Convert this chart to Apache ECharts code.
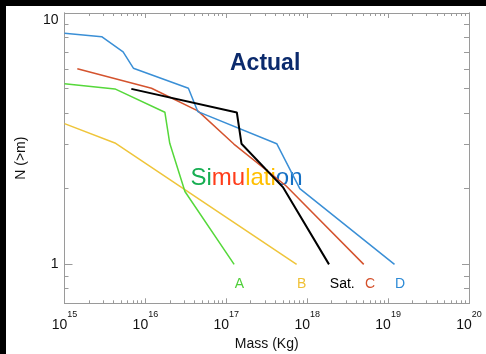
<!DOCTYPE html>
<html><head><meta charset="utf-8">
<script src="https://cdn.jsdelivr.net/npm/echarts@6/dist/echarts.min.js"></script>
<style>
html,body{margin:0;padding:0;background:#000;width:486px;height:354px;overflow:hidden}
#c{position:absolute;left:6px;top:6px;width:480px;height:348px;background:#fff}
</style>
</head><body><div id="c"></div>
<script>
// Series readings (mass in kg, N(>m))
const massA = [1e15, 4.2e15, 1.74e16, 2.0e16, 3.08e16, 1.25e17];
const nA    = [5.23, 4.99, 4.03, 3.03, 1.95, 1.0];
const massB = [1e15, 4.2e15, 7.4e17];
const nB    = [3.63, 3.04, 1.0];
const massSat = [6.7e15, 1.35e17, 1.54e17, 5.0e17, 1.86e18];
const nSat    = [4.99, 4.02, 3.02, 2.03, 1.0];
const massC = [1.44e15, 1.19e16, 4.45e16, 1.24e17, 5.5e17, 5.0e18];
const nC    = [6.0, 5.02, 4.08, 3.01, 2.05, 1.0];
const massD = [1e15, 2.88e15, 5.3e15, 7.1e15, 3.4e16, 4.45e16, 4.2e17, 8.1e17, 1.2e19];
const nD    = [8.3, 8.05, 7.0, 6.03, 5.02, 4.05, 3.02, 2.0, 1.0];

// Axis ranges and tick labels
const xMin = 1e15, xMax = 1e20;
const yMin = 0.7, yMax = 10;
const xTickExponents = [15, 16, 17, 18, 19, 20];
const yTickLabels = [1, 10];
const yMinorTicks = [0.8, 0.9, 2, 3, 4, 5, 6, 7, 8, 9];

const L = Math.log10;
const xMinorTicks = [];
for (let e = 15; e < 20; e++) for (let k = 2; k <= 9; k++) xMinorTicks.push(L(k * Math.pow(10, e)));

const FONT = '"Liberation Sans", Arial, Helvetica, sans-serif';
const AX = '#9a9a9a';

function pts(m, n) { return m.map((v, i) => [L(v), L(n[i])]); }

function xAx(pos, vals, len, labels) {
  return {
    type: 'value', position: pos, min: L(xMin), max: L(xMax),
    axisLine: { show: true, onZero: false, lineStyle: { color: AX, width: 1 } },
    axisTick: { show: true, inside: true, length: len, customValues: vals, lineStyle: { color: AX } },
    axisLabel: labels ? {
      show: true, customValues: vals, margin: 7,
      formatter: v => '{b|10}{s|' + Math.round(v) + '}',
      rich: {
        b: { fontSize: 14, fontFamily: FONT, color: '#111', lineHeight: 22, verticalAlign: 'bottom' },
        s: { fontSize: 9, fontFamily: FONT, color: '#111', lineHeight: 10, verticalAlign: 'top' }
      }
    } : { show: false },
    splitLine: { show: false }
  };
}
function yAx(pos, vals, len, labels) {
  return {
    type: 'value', position: pos, min: L(yMin), max: L(yMax),
    axisLine: { show: true, onZero: false, lineStyle: { color: AX, width: 1 } },
    axisTick: { show: true, inside: true, length: len, customValues: vals, lineStyle: { color: AX } },
    axisLabel: labels ? {
      show: true, customValues: vals, margin: 6, fontSize: 14, fontFamily: FONT, color: '#111',
      formatter: v => String(Math.round(Math.pow(10, v))),
      verticalAlignMaxLabel: 'top'
    } : { show: false },
    splitLine: { show: false }
  };
}

const xMajor = xTickExponents.slice();
const yMajor = yTickLabels.map(L);
const yMinor = yMinorTicks.map(L);

const xAxes = [xAx('bottom', xMajor, 5, true), xAx('bottom', xMinorTicks, 3, false),
               xAx('top', xMajor, 5, false), xAx('top', xMinorTicks, 3, false)];
xAxes[0].name = 'Mass (Kg)';
xAxes[0].nameLocation = 'middle';
xAxes[0].nameGap = 28;
xAxes[0].nameTextStyle = { fontSize: 14, fontFamily: FONT, color: '#111' };

const yAxes = [yAx('left', yMajor, 8, true), yAx('left', yMinor, 4, false),
               yAx('right', yMajor, 7, false), yAx('right', yMinor, 5, false)];
yAxes[0].name = 'N (>m)';
yAxes[0].nameLocation = 'middle';
yAxes[0].nameGap = 36;
yAxes[0].nameTextStyle = { fontSize: 14, fontFamily: FONT, color: '#111' };

function line(name, m, n, color, w) {
  return { name, type: 'line', xAxisIndex: 0, yAxisIndex: 0, data: pts(m, n), symbol: 'none',
    lineStyle: { color, width: w }, animation: false, clip: false };
}

const chart = echarts.init(document.getElementById('c'), null, { renderer: 'canvas' });
chart.setOption({
  animation: false,
  backgroundColor: '#fff',
  grid: { left: 58.5, top: 7, right: 17, bottom: 50.7, containLabel: false, outerBoundsMode: 'none' },
  xAxis: xAxes,
  yAxis: yAxes,
  series: [
    line('B', massB, nB, '#efc53a', 1.5),
    line('A', massA, nA, '#55d83a', 1.5),
    line('C', massC, nC, '#d4532e', 1.5),
    line('D', massD, nD, '#3a8fd6', 1.5),
    line('Sat.', massSat, nSat, '#000', 2)
  ],
  graphic: [
    { type: 'text', left: 224, top: 46, style: { text: 'Actual', font: 'bold 23px ' + FONT, fill: '#0b2a6c' } },
    { type: 'text', left: 184.5, top: 160, style: {
        text: '{g|Si}{r|mu}{y|lati}{b|on}',
        rich: {
          g: { fontSize: 24, fontFamily: FONT, fill: '#17ae52', color: '#17ae52' },
          r: { fontSize: 24, fontFamily: FONT, fill: '#ff3d1a', color: '#ff3d1a' },
          y: { fontSize: 24, fontFamily: FONT, fill: '#ffbf00', color: '#ffbf00' },
          b: { fontSize: 24, fontFamily: FONT, fill: '#1570c4', color: '#1570c4' }
        } } },
    { type: 'text', x: 233.3, y: 278.3, style: { text: 'A', font: '14px ' + FONT, fill: '#4fcf3a', align: 'center', verticalAlign: 'middle' } },
    { type: 'text', x: 295.7, y: 278.3, style: { text: 'B', font: '14px ' + FONT, fill: '#f0c136', align: 'center', verticalAlign: 'middle' } },
    { type: 'text', x: 336.3, y: 278.3, style: { text: 'Sat.', font: '14px ' + FONT, fill: '#000', align: 'center', verticalAlign: 'middle' } },
    { type: 'text', x: 364, y: 278.3, style: { text: 'C', font: '14px ' + FONT, fill: '#d4502b', align: 'center', verticalAlign: 'middle' } },
    { type: 'text', x: 394, y: 278.3, style: { text: 'D', font: '14px ' + FONT, fill: '#2d8ad6', align: 'center', verticalAlign: 'middle' } }
  ]
});
</script>
</body></html>
